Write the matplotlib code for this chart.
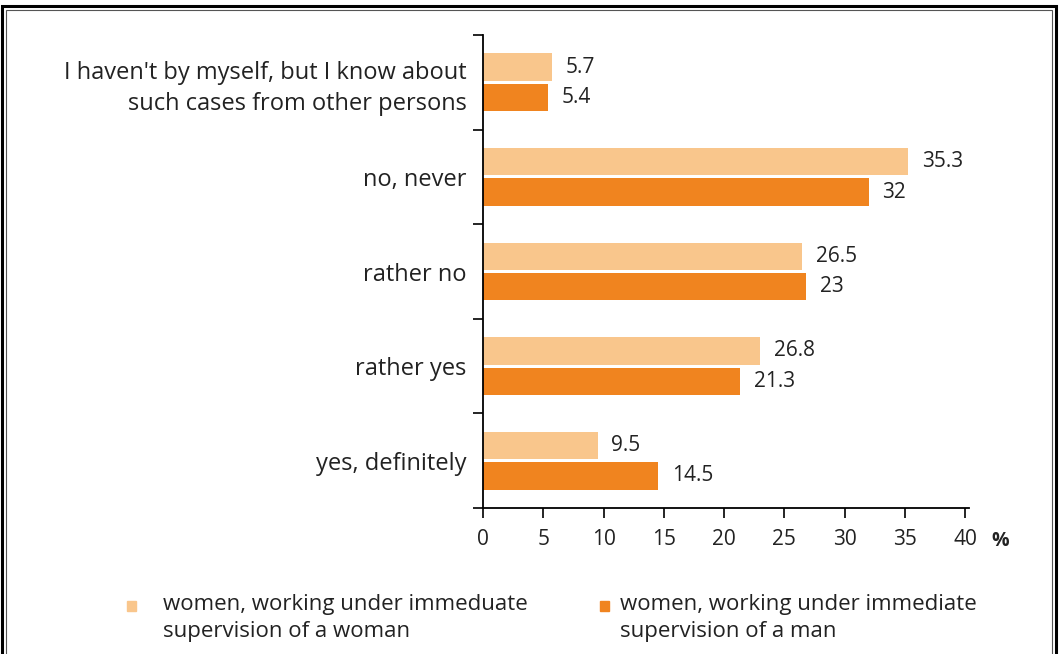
import matplotlib.pyplot as plt
from matplotlib.patches import Rectangle

plt.rcParams['font.family'] = ['Open Sans', 'DejaVu Sans']

# categories from bottom to top
categories = ['yes, definitely', 'rather yes', 'rather no', 'no, never',
              "I haven't by myself, but I know about\nsuch cases from other persons"]
# bar lengths as drawn in the source picture
woman_boss = [9.5, 23.0, 26.5, 35.3, 5.7]
man_boss = [14.5, 21.3, 26.8, 32.0, 5.4]
# value labels as printed in the source picture
woman_labels = ['9.5', '26.8', '26.5', '35.3', '5.7']
man_labels = ['14.5', '21.3', '23', '32', '5.4']
x_ticks = [0, 5, 10, 15, 20, 25, 30, 35, 40]

legend_labels = ['women, working under immeduate\nsupervision of a woman',
                 'women, working under immediate\nsupervision of a man']

light = '#F9C68C'
dark = '#F0841F'
text_col = '#222222'

fig = plt.figure(figsize=(10.6, 6.54), dpi=100)
ax = fig.add_axes([0.4557, 0.2232, 0.4581, 0.7233])

pos = range(len(categories))
h = 0.29
ax.barh([p + 0.16 for p in pos], woman_boss, height=h, color=light)
ax.barh([p - 0.16 for p in pos], man_boss, height=h, color=dark)

for p, v, s in zip(pos, woman_boss, woman_labels):
    ax.annotate(s, (v, p + 0.16), xytext=(10, 0), textcoords='offset points',
                va='center', ha='left', fontsize=15, color=text_col)
for p, v, s in zip(pos, man_boss, man_labels):
    ax.annotate(s, (v, p - 0.16), xytext=(10, 0), textcoords='offset points',
                va='center', ha='left', fontsize=15, color=text_col)

ax.set_xlim(0, 40.3)
ax.set_ylim(-0.5, len(categories) - 0.5)
ax.set_xticks(x_ticks)
ax.set_xticklabels([str(t) for t in x_ticks], fontsize=15, color=text_col)
ax.set_yticks(list(pos))
ax.set_yticklabels(categories, fontsize=17, color=text_col, linespacing=1.38)
ax.set_yticks([p - 0.5 for p in range(len(categories) + 1)], minor=True)
ax.tick_params(axis='y', which='major', length=0, pad=12)
ax.tick_params(axis='y', which='minor', length=7, width=1.2, direction='out')
ax.tick_params(axis='x', length=7, width=1.2, direction='out', pad=8)

for side in ['top', 'right']:
    ax.spines[side].set_visible(False)
ax.spines['left'].set_linewidth(1.3)
ax.spines['bottom'].set_linewidth(1.3)

fig.text(1000 / 1060, 1 - 541 / 654, '%', ha='center', va='center',
         fontsize=14, color=text_col, fontweight='bold')

# legend drawn by hand
for x_mark, x_txt, col, lab in [(127, 163, light, legend_labels[0]),
                                (600, 620, dark, legend_labels[1])]:
    fig.add_artist(Rectangle((x_mark / 1060, 1 - 611 / 654), 9 / 1060, 10 / 654,
                             transform=fig.transFigure, color=col))
    fig.text(x_txt / 1060, 1 - 594 / 654, lab, ha='left', va='top',
             fontsize=16, color=text_col, linespacing=1.4)

# frame around the figure
fig.add_artist(Rectangle((2 / 1060, -0.05), 1054 / 1060, 1.05 - 6 / 654,
                         transform=fig.transFigure, fill=False, lw=2.2, ec='black'))
fig.add_artist(Rectangle((6 / 1060, -0.05), 1046 / 1060, 1.05 - 10 / 654,
                         transform=fig.transFigure, fill=False, lw=0.8, ec='#555555'))

fig.savefig('out.png', dpi=100)
